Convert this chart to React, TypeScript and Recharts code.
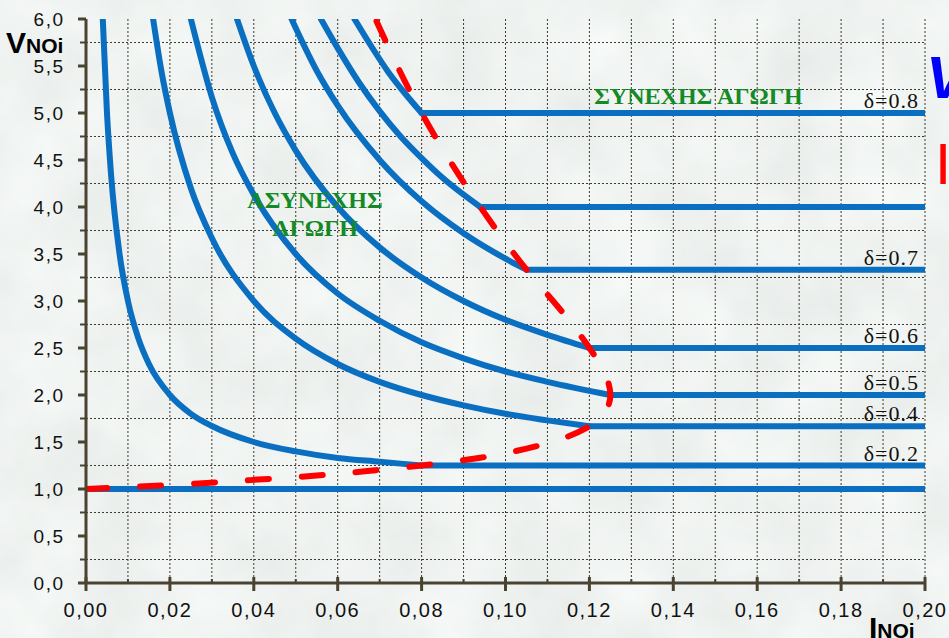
import React from 'react';
import { LineChart, Line, XAxis, YAxis, CartesianGrid, ReferenceDot } from 'recharts';

// ---------- data ----------
const xTicks = [0, 0.01, 0.02, 0.03, 0.04, 0.05, 0.06, 0.07, 0.08, 0.09, 0.1, 0.11, 0.12, 0.13, 0.14, 0.15, 0.16, 0.17, 0.18, 0.19, 0.2];
const yTicks = [0, 0.25, 0.5, 0.75, 1, 1.25, 1.5, 1.75, 2, 2.25, 2.5, 2.75, 3, 3.25, 3.5, 3.75, 4, 4.25, 4.5, 4.75, 5, 5.25, 5.5, 5.75, 6];
const hGrid = [0.25, 0.75, 1.25, 1.75, 2.25, 2.75, 3.25, 3.75, 4.25, 4.75, 5.25, 5.75];

// discontinuous-mode curves (I, V)
const dcmI02 = [0.004, 0.005, 0.006, 0.008, 0.010, 0.0125, 0.015, 0.020, 0.025, 0.030, 0.040, 0.050, 0.060, 0.070, 0.080];
const dcmV02 = [6.0, 5.0, 4.33, 3.5, 3.0, 2.6, 2.33, 2.0, 1.8, 1.67, 1.5, 1.4, 1.33, 1.29, 1.25];
const dcmI04 = [0.016, 0.018, 0.020, 0.025, 0.030, 0.040, 0.050, 0.060, 0.070, 0.080, 0.090, 0.100, 0.110, 0.120];
const dcmV04 = [6.0, 5.44, 5.0, 4.2, 3.67, 3.0, 2.6, 2.33, 2.14, 2.0, 1.89, 1.8, 1.73, 1.667];
const dcmI05 = [0.025, 0.030, 0.035, 0.040, 0.050, 0.060, 0.070, 0.080, 0.090, 0.100, 0.110, 0.125];
const dcmV05 = [6.0, 5.17, 4.57, 4.13, 3.5, 3.08, 2.79, 2.56, 2.39, 2.25, 2.14, 2.0];
const dcmI06 = [0.036, 0.040, 0.045, 0.050, 0.060, 0.070, 0.080, 0.090, 0.100, 0.110, 0.120];
const dcmV06 = [6.0, 5.5, 5.0, 4.6, 4.0, 3.57, 3.25, 3.0, 2.8, 2.64, 2.5];
const dcmI07 = [0.049, 0.055, 0.060, 0.070, 0.080, 0.090, 0.100, 0.105];
const dcmV07 = [6.0, 5.45, 5.08, 4.5, 4.06, 3.72, 3.45, 3.333];
const dcmI075 = [0.056, 0.060, 0.065, 0.070, 0.075, 0.080, 0.085, 0.094];
const dcmV075 = [6.0, 5.69, 5.33, 5.02, 4.75, 4.52, 4.31, 4.0];
const dcmI08 = [0.064, 0.068, 0.072, 0.076, 0.080];
const dcmV08 = [6.0, 5.71, 5.44, 5.21, 5.0];

// continuous-mode levels and where they start
const ccmLevels = [1.0, 1.25, 1.667, 2.0, 2.5, 3.333, 4.0, 5.0];
const ccmStart = [0.0, 0.08, 0.12, 0.125, 0.12, 0.105, 0.094, 0.08];

// boundary (red dashed)
const boundI = [0, 0.023, 0.041, 0.057, 0.069, 0.080, 0.094, 0.105, 0.111, 0.120, 0.1235, 0.125, 0.124, 0.120, 0.114, 0.105, 0.094, 0.080, 0.069];
const boundV = [1.0, 1.05, 1.1, 1.15, 1.2, 1.25, 1.333, 1.429, 1.5, 1.667, 1.8, 2.0, 2.2, 2.5, 2.857, 3.333, 4.0, 5.0, 6.0];

// delta labels
const deltaLabels = ['δ=0.8', 'δ=0.7', 'δ=0.6', 'δ=0.5', 'δ=0.4', 'δ=0.2'];
const deltaLevels = [5.0, 3.333, 2.5, 2.0, 1.667, 1.25];

// ---------- helpers ----------
const pts = (xs: number[], ys: number[]) => xs.map((x, i) => ({ x, y: ys[i] }));
const dcmCurves = [
  pts(dcmI02, dcmV02), pts(dcmI04, dcmV04), pts(dcmI05, dcmV05), pts(dcmI06, dcmV06),
  pts(dcmI07, dcmV07), pts(dcmI075, dcmV075), pts(dcmI08, dcmV08),
];
const ccmLines = ccmLevels.map((v, i) => [{ x: ccmStart[i], y: v }, { x: 0.2, y: v }]);
const boundary = pts(boundI, boundV);

const BLUE = '#0b6fc1';
const AXIS = '#4a4331';
const GREEN = '#138a25';

const XTick = (props: any) => {
  const { x, y, payload } = props;
  const v = payload.value as number;
  const major = Math.round(v * 100) % 2 === 0;
  return (
    <g>
      {major ? (
        <line x1={x} x2={x} y1={y - 6} y2={y + 8} stroke={AXIS} strokeWidth={3} />
      ) : (
        <line x1={x} x2={x} y1={y - 4} y2={y} stroke={AXIS} strokeWidth={2} />
      )}
      {major && (
        <text x={x} y={y + 34} textAnchor="middle" fontSize={20} letterSpacing={1.5}
          fontFamily="'Liberation Sans', Arial, sans-serif" fill="#111">
          {v.toFixed(2).replace('.', ',')}
        </text>
      )}
    </g>
  );
};

const YTick = (props: any) => {
  const { x, y, payload } = props;
  const v = payload.value as number;
  const major = Math.round(v * 100) % 50 === 0;
  return (
    <g>
      {major ? (
        <line x1={x - 8} x2={x} y1={y} y2={y} stroke={AXIS} strokeWidth={3} />
      ) : (
        <line x1={x - 6} x2={x} y1={y} y2={y} stroke={AXIS} strokeWidth={2} />
      )}
      {major && (
        <text x={x - 21.5} y={y} dy="0.36em" textAnchor="end" fontSize={19} letterSpacing={1.5}
          fontFamily="'Liberation Sans', Arial, sans-serif" fill="#111">
          {v.toFixed(1).replace('.', ',')}
        </text>
      )}
    </g>
  );
};

const greenText = (label: string) => (p: any) => (
  <text x={p.cx} y={p.cy} textAnchor="middle" fontSize={24} fontWeight="bold"
    fontFamily="'Liberation Serif', 'Times New Roman', serif" fill={GREEN}>
    {label}
  </text>
);

const deltaText = (label: string) => (p: any) => (
  <text x={p.cx - 6} y={p.cy - 5} textAnchor="end" fontSize={22} letterSpacing={1}
    fontFamily="'Liberation Serif', 'Times New Roman', serif" fill="#111">
    {label}
  </text>
);

export default function App() {
  return (
    <div style={{ position: 'fixed', left: 0, top: 0, width: 949, height: 638, overflow: 'hidden', background: '#dde4df' }}>
      <svg width={949} height={638} style={{ position: 'absolute', left: 0, top: 0 }}>
        <filter id="tex">
          <feTurbulence type="fractalNoise" baseFrequency="0.012" numOctaves={4} seed={7} />
          <feColorMatrix type="matrix" values="0.16 0 0 0 0.785  0.16 0 0 0 0.815  0.16 0 0 0 0.795  0 0 0 0 1" />
        </filter>
        <rect x={0} y={0} width={949} height={638} filter="url(#tex)" />
      </svg>
      <div style={{ position: 'absolute', left: 0, top: 0 }}>
        <LineChart width={949} height={638} margin={{ top: 19, right: 24, bottom: 15, left: 26 }}>
          <CartesianGrid horizontalValues={hGrid} verticalValues={xTicks.slice(1)}
            stroke="#3d3a30" strokeDasharray="2 2" strokeWidth={1} />
          <XAxis type="number" dataKey="x" domain={[0, 0.2]} ticks={xTicks} interval={0}
            allowDataOverflow height={40} tickSize={0} tickMargin={0} tickLine={false}
            axisLine={{ stroke: AXIS, strokeWidth: 3 }} tick={<XTick />} />
          <YAxis type="number" dataKey="y" domain={[0, 6]} ticks={yTicks} interval={0}
            allowDataOverflow width={60} tickSize={0} tickMargin={0} tickLine={false}
            axisLine={{ stroke: AXIS, strokeWidth: 3 }} tick={<YTick />} />
          {dcmCurves.map((d, i) => (
            <Line key={'dcm' + i} data={d} dataKey="y" type="monotone" stroke={BLUE} strokeWidth={6}
              strokeLinecap="round" dot={false} activeDot={false} isAnimationActive={false} />
          ))}
          {ccmLines.map((d, i) => (
            <Line key={'ccm' + i} data={d} dataKey="y" type="linear" stroke={BLUE} strokeWidth={6}
              strokeLinecap="round" dot={false} activeDot={false} isAnimationActive={false} />
          ))}
          <Line data={boundary} dataKey="y" type="monotoneY" stroke="#ff0000" strokeWidth={6}
            strokeDasharray="21 33" strokeLinecap="round" dot={false} activeDot={false} isAnimationActive={false} />
          {deltaLabels.map((l, i) => (
            <ReferenceDot key={'dl' + i} x={0.2} y={deltaLevels[i]} r={0} shape={deltaText(l)} />
          ))}
          <ReferenceDot x={0.146} y={5.1} r={0} shape={greenText('ΣΥΝΕΧΗΣ ΑΓΩΓΗ')} />
          <ReferenceDot x={0.0546} y={3.99} r={0} shape={greenText('ΑΣΥΝΕΧΗΣ')} />
          <ReferenceDot x={0.0546} y={3.69} r={0} shape={greenText('ΑΓΩΓΗ')} />
        </LineChart>
      </div>
      <svg width={949} height={638} style={{ position: 'absolute', left: 0, top: 0, pointerEvents: 'none' }}
        fontFamily="'Liberation Sans', Arial, sans-serif">
        <text x={6} y={53} fontWeight="bold" fill="#000">
          <tspan fontSize={30}>V</tspan><tspan fontSize={21}>NOi</tspan>
        </text>
        <text x={869} y={638} fontWeight="bold" fill="#000">
          <tspan fontSize={30}>I</tspan><tspan fontSize={21}>NOi</tspan>
        </text>
        <text x={926} y={98} fontSize={60} fontWeight="bold" fontStyle="italic" fill="#0000ff">V</text>
        <text x={935} y={184} fontSize={58} fill="#ff0000">I</text>
      </svg>
    </div>
  );
}
